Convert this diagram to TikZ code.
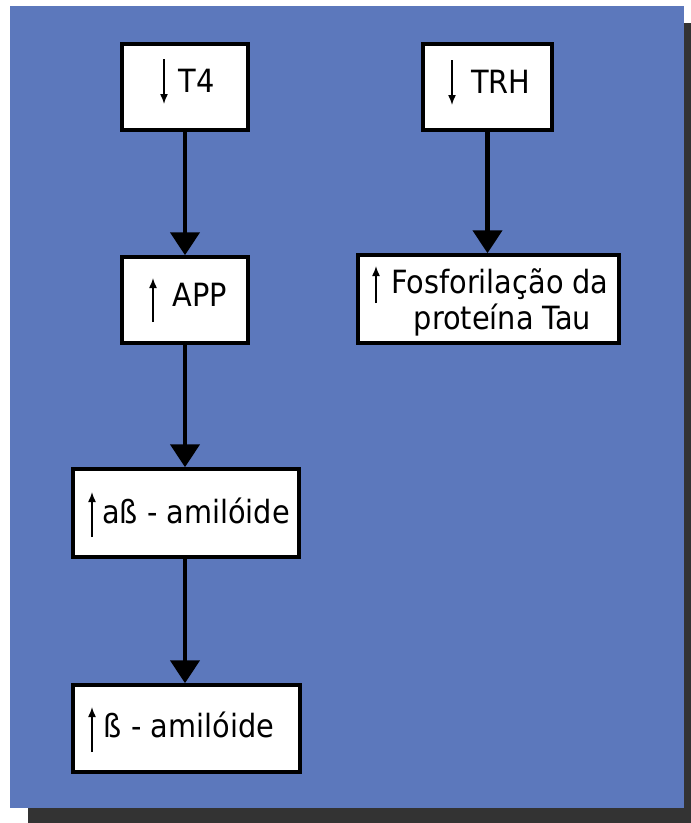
\documentclass[tikz,border=0pt]{standalone}
\usepackage{fontspec}
\setmainfont{DejaVu Sans Condensed}
\usetikzlibrary{arrows.meta}
\definecolor{bgblue}{RGB}{92,120,188}
\definecolor{shadowgray}{RGB}{51,51,51}
\begin{document}
\begin{tikzpicture}[x=1pt,y=-1pt,
  box/.style={draw=black,line width=3.5pt,fill=white,rectangle,inner sep=0pt},
  lbl/.style={anchor=base,inner sep=0pt,font=\fontsize{32}{38}\selectfont},
  flow/.style={line width=4.5pt,-{Triangle[length=23pt,width=29pt]}},
  tiny/.style={line width=1.5pt,-{Latex[length=10pt,width=8pt]}}]
\useasboundingbox (0,0) rectangle (691,823);
\fill[shadowgray] (28,23) rectangle (691,823);
\fill[bgblue] (10,6) rectangle (684,808);
% boxes
\node[box,minimum width=126pt,minimum height=86pt] (t4) at (185,87) {};
\node[box,minimum width=129pt,minimum height=86pt] (trh) at (487.5,87) {};
\node[box,minimum width=126pt,minimum height=86pt] (app) at (185,300) {};
\node[box,minimum width=261pt,minimum height=88pt] (fos) at (488.5,299) {};
\node[box,minimum width=226pt,minimum height=88pt] (ab) at (186,513) {};
\node[box,minimum width=227pt,minimum height=87pt] (b) at (186.5,728.5) {};
% connectors
\draw[flow] (t4.south) -- (t4.south |- app.north);
\draw[flow] (trh.south) -- (trh.south |- fos.north);
\draw[flow] (app.south) -- (app.south |- ab.north);
\draw[flow] (app.south |- ab.south) -- (app.south |- b.north);
% labels
\node[lbl] (t4l) at (196.5,92) {T4};
\node[lbl] (trhl) at (501,93) {TRH};
\node[lbl] (appl) at (200,306) {APP};
\node[lbl] (fosl1) at (500,293) {Fosforilação da};
\node[lbl] (fosl2) at (502.5,329) {proteína Tau};
\node[lbl] (abl) at (196,523) {aß - amilóide};
\node[lbl] (bl) at (189,737) {ß - amilóide};
% small arrows
\draw[tiny] (164,59) -- (164,104);
\draw[tiny] (452,60) -- (452,105);
\draw[tiny] (153,322) -- (153,278);
\draw[tiny] (376,303) -- (376,266);
\draw[tiny] (92,537) -- (92,492);
\draw[tiny] (92,752) -- (92,707);
\end{tikzpicture}
\end{document}
